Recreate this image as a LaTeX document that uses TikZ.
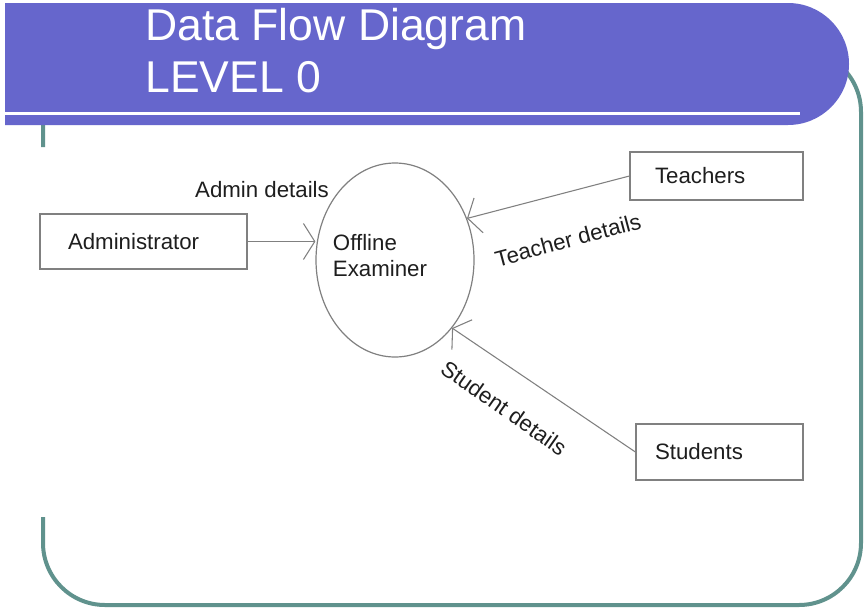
\documentclass[tikz,border=0pt]{standalone}
\usepackage{fontspec}
\setmainfont{Liberation Sans}
\usetikzlibrary{arrows.meta,shapes.geometric}
\definecolor{banner}{RGB}{102,102,204}
\definecolor{frame}{RGB}{96,146,141}
\definecolor{linegray}{RGB}{128,128,128}
\definecolor{ink}{RGB}{30,30,30}
\tikzset{
    entity/.style={rectangle, draw=linegray, line width=0.9pt, align=left, font=\fontsize{16.7}{20}\selectfont, text=ink},
    process/.style={ellipse, draw=linegray, line width=0.9pt, inner sep=0pt, minimum width=118.5pt, minimum height=145.5pt},
    flow/.style={-{Straight Barb[length=8.5pt,width=27pt]}, draw=linegray, line width=0.8pt},
    lbl/.style={font=\fontsize{16.7}{19.5}\selectfont, text=ink, inner sep=0pt}
}
\begin{document}
\begin{tikzpicture}[x=0.75pt, y=-0.75pt,
    title/.style={font=\fontsize{33.4}{39}\selectfont, text=white, inner sep=0pt, anchor=base west}
]
    \path[fill=white, use as bounding box] (0,0) rectangle (864,611);

    % Slide frame (left side is broken)
    \draw[frame, line width=3pt, rounded corners=46.5pt]
        (43,517) -- (43,605) -- (861,605) -- (861,50) -- (43,50) -- (43,147);

    % Title banner
    \fill[banner] (5,3) -- (788,3) arc[start angle=-90, end angle=90, radius=61] -- (5,125) -- cycle;
    \draw[white, line width=2.25pt] (5,113) -- (800,113);
    \node[title] (title1) at (145,40) {Data Flow Diagram};
    \node[title] (title2) at (145,92) {LEVEL 0};

    % Process
    \node[process] (exam) at (395,260) {};
    \node[lbl, align=left] (examlbl) at (380,256) {Offline\\Examiner};

    % External entities
    \node[entity, minimum width=155.25pt, minimum height=41.25pt, inner xsep=21pt, text width=113.25pt] (admin) at (143.5,241.5) {Administrator};
    \node[entity, minimum width=129.75pt, minimum height=36pt, inner xsep=18.75pt, text width=92.25pt] (teach) at (716.5,176) {Teachers};
    \node[entity, minimum width=125.25pt, minimum height=42pt, inner xsep=14.25pt, text width=96.75pt] (stud) at (719.5,452) {Students};

    % Data flows
    \draw[flow] (admin.east) -- (admin.east -| exam.west);
    \draw[flow] (teach.west) -- (exam.30);
    \draw[flow] (stud.west) -- (exam.-50);

    \node[lbl] (adminflow) at (262,190) {Admin details};
    \node[lbl, rotate=15] (teachflow) at (568,240) {Teacher details};
    \node[lbl, rotate=-35] (studflow) at (504,408) {Student details};
\end{tikzpicture}
\end{document}
